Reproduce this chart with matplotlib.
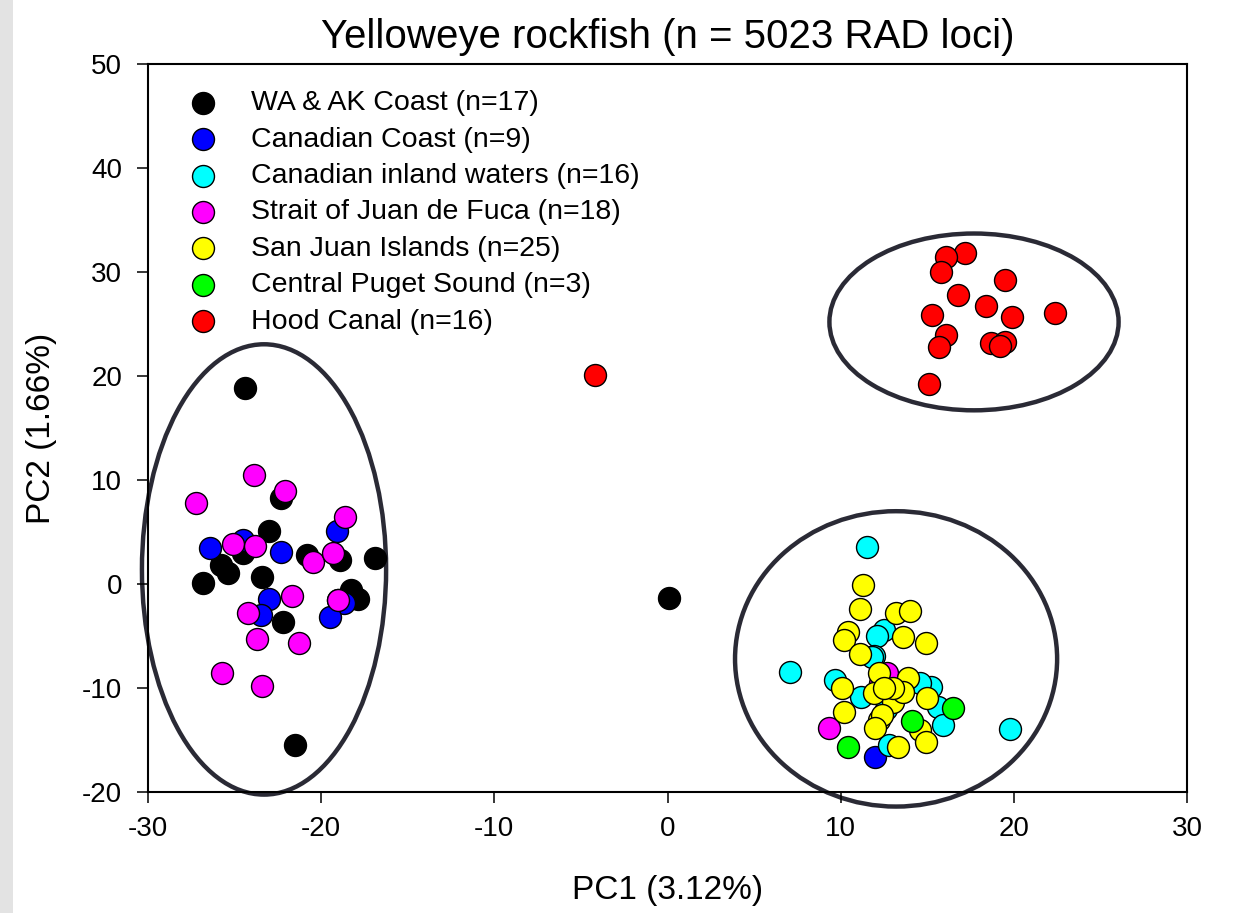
import matplotlib
matplotlib.use("Agg")
import matplotlib.pyplot as plt
from matplotlib.patches import Ellipse, Rectangle

plt.rcParams['font.family'] = ['Liberation Sans', 'DejaVu Sans']
plt.rcParams['axes.unicode_minus'] = False

title = "Yelloweye rockfish (n = 5023 RAD loci)"
xlabel = "PC1 (3.12%)"
ylabel = "PC2 (1.66%)"

labels = ["WA & AK Coast (n=17)", "Canadian Coast (n=9)", "Canadian inland waters (n=16)",
          "Strait of Juan de Fuca (n=18)", "San Juan Islands (n=25)",
          "Central Puget Sound (n=3)", "Hood Canal (n=16)"]
colors = ["#000000", "#0000ff", "#00ffff", "#ff00ff", "#ffff00", "#00ff00", "#ff0000"]

wa_x = [-24.4, -22.3, -23.0, -20.8, -18.9, -16.9, -25.8, -25.4, -26.8, -23.4, -22.2, -21.5, -18.3, -17.9, 0.1, -24.5, -19.0]
wa_y = [18.8, 8.3, 5.1, 2.8, 2.3, 2.5, 1.8, 1.1, 0.1, 0.7, -3.7, -15.5, -0.6, -1.4, -1.3, 3.0, -1.5]

cc_x = [-19.1, -26.4, -24.5, -22.3, -23.0, -23.5, -18.7, -19.5, 12.0]
cc_y = [5.1, 3.5, 4.2, 3.1, -1.4, -3.0, -1.8, -3.2, -16.6]

ci_x = [11.5, 12.5, 12.1, 11.9, 7.1, 9.7, 15.2, 14.6, 11.2, 15.6, 15.9, 12.8, 19.8, 11.8, 13.4, 12.6]
ci_y = [3.6, -4.4, -5.0, -6.9, -8.5, -9.2, -9.9, -9.5, -10.9, -11.8, -13.6, -15.5, -13.9, -7.0, -9.8, -12.0]

sj_x = [-23.9, -22.1, -27.2, -18.6, -25.1, -23.8, -20.5, -19.3, -21.7, -24.2, -23.7, -21.3, -25.7, -23.4, -19.0, 9.3, 12.7, 12.3]
sj_y = [10.5, 8.9, 7.8, 6.4, 3.8, 3.7, 2.1, 3.0, -1.2, -2.8, -5.3, -5.7, -8.6, -9.8, -1.5, -13.8, -8.6, -9.5]

sji_x = [11.3, 11.1, 13.2, 14.0, 10.4, 10.2, 13.6, 14.9, 11.1, 12.2, 13.9, 10.1, 11.9,
         13.0, 13.6, 13.0, 15.0, 10.2, 12.2, 12.4, 12.0, 14.6, 14.9, 13.3, 12.5]
sji_y = [-0.1, -2.4, -2.8, -2.6, -4.6, -5.4, -5.1, -5.7, -6.7, -8.6, -9.0, -10.0, -10.5,
         -11.3, -10.4, -10.0, -11.0, -12.3, -13.1, -12.6, -13.8, -14.0, -15.2, -15.7, -10.0]

cps_x = [16.5, 14.1, 10.4]
cps_y = [-11.9, -13.2, -15.7]

hc_x = [17.2, 16.1, 15.8, 19.5, 16.8, 18.4, 15.3, 19.9, 22.4, 16.1, 15.7, 18.7, 19.5, 19.2, 15.1, -4.2]
hc_y = [31.8, 31.4, 30.0, 29.2, 27.8, 26.7, 25.9, 25.7, 26.1, 23.9, 22.8, 23.2, 23.3, 22.9, 19.2, 20.1]

groups_x = [wa_x, cc_x, ci_x, sj_x, sji_x, cps_x, hc_x]
groups_y = [wa_y, cc_y, ci_y, sj_y, sji_y, cps_y, hc_y]

# ellipses: (center x, center y, width, height) in data units
ell_cx = [-23.3, 13.2, 17.7]
ell_cy = [1.4, -7.2, 25.2]
ell_w = [14.1, 18.6, 16.7]
ell_h = [43.3, 28.4, 17.0]

fig = plt.figure(figsize=(12.42, 9.13), dpi=100)
fig.patches.append(Rectangle((0, 0), 13 / 1242, 1, transform=fig.transFigure,
                             facecolor="#e3e3e3", edgecolor="none", zorder=0))
ax = fig.add_axes([148 / 1242, 1 - 792 / 913, (1187 - 148) / 1242, (792 - 64) / 913])

for cx, cy, w, h in zip(ell_cx, ell_cy, ell_w, ell_h):
    e = Ellipse((cx, cy), w, h, facecolor="none", edgecolor="#2a2a35", lw=3.2,
                zorder=1, clip_on=False)
    ax.add_patch(e)

for gx, gy, c, lab in zip(groups_x, groups_y, colors, labels):
    ax.scatter(gx, gy, s=250, c=c, edgecolors="black", linewidths=1.0, zorder=3, label=lab)

ax.set_xlim(-30, 30)
ax.set_ylim(-20, 50)
ax.set_xticks(range(-30, 31, 10))
ax.set_yticks(range(-20, 51, 10))
ax.tick_params(direction="out", length=8, width=1.1, labelsize=20)
ax.tick_params(axis="x", pad=9.5)
ax.tick_params(axis="y", pad=10.5)
for sp in ax.spines.values():
    sp.set_linewidth(1.5)

ax.set_title(title, fontsize=29, pad=11.5)
ax.set_xlabel(xlabel, fontsize=24, labelpad=23.5)
ax.set_ylabel(ylabel, fontsize=24, labelpad=18)

leg = ax.legend(loc="upper left", bbox_to_anchor=(0.0395, 0.964), frameon=False,
                fontsize=20.5, labelspacing=0.365, handlelength=1.0, handletextpad=1.17,
                borderaxespad=0, borderpad=0, scatterpoints=1)

fig.savefig("out.png", dpi=100)
